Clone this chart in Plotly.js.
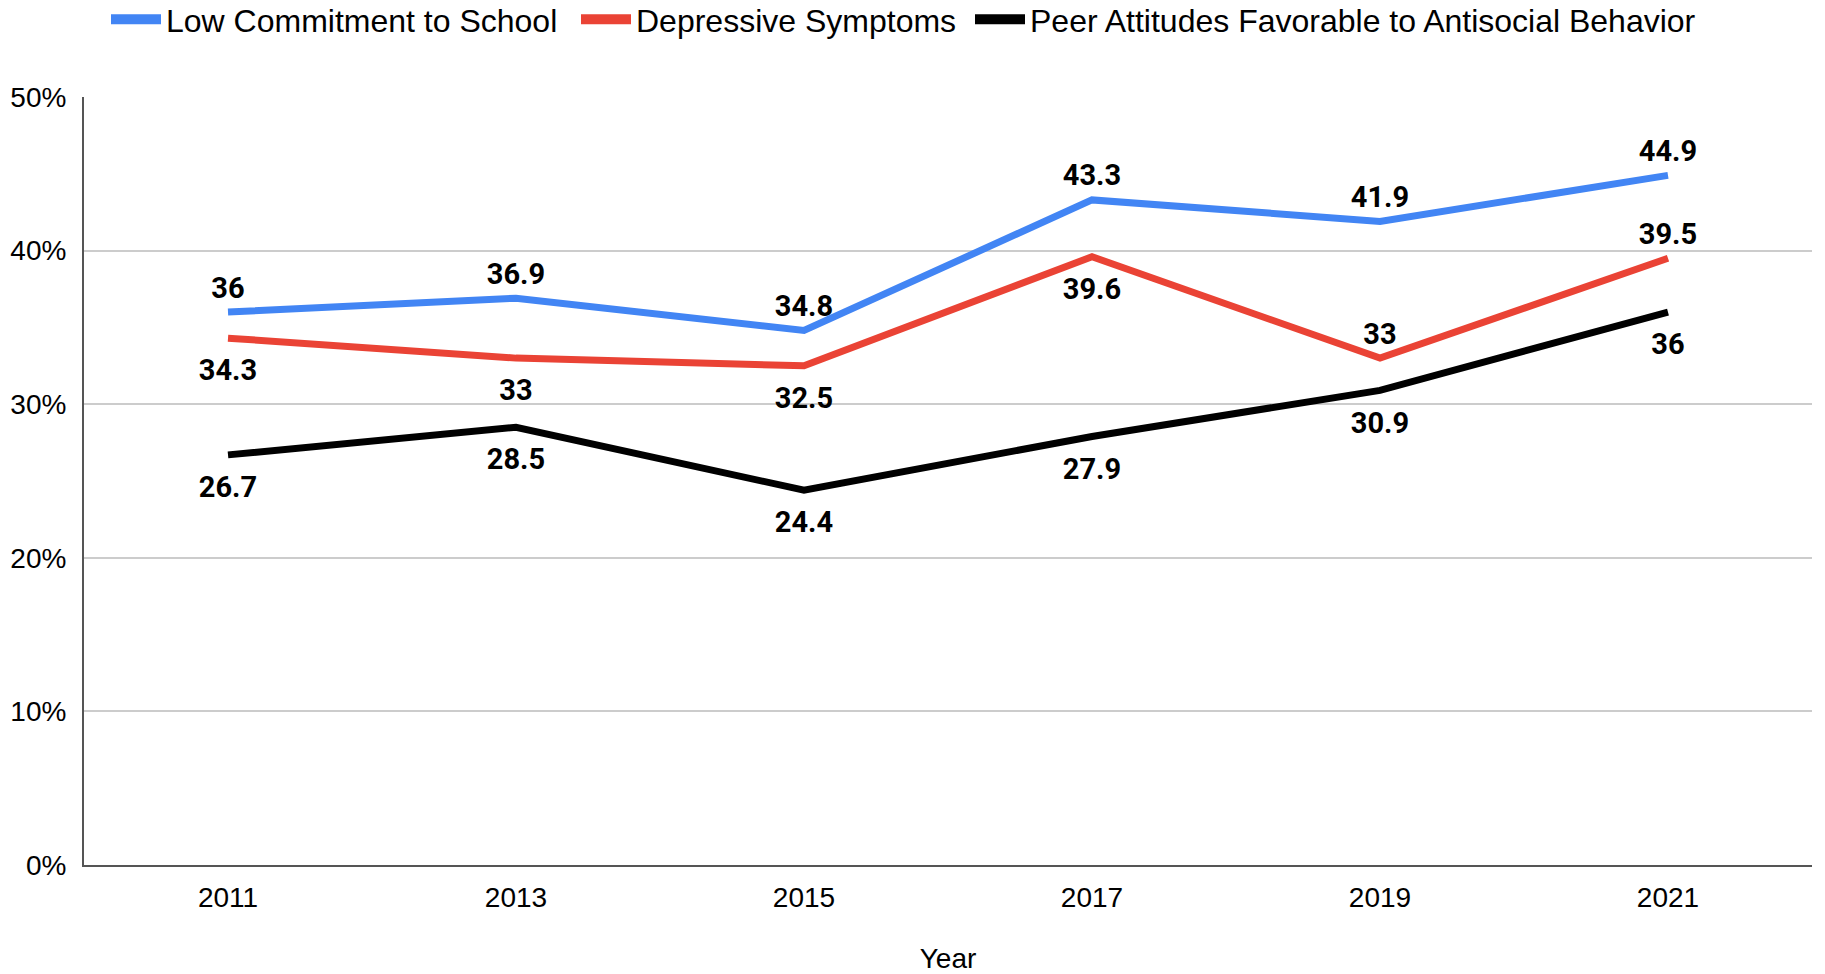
<!DOCTYPE html>
<html>
<head>
<meta charset="utf-8">
<script src="https://cdn.plot.ly/plotly-3.0.1.min.js"></script>
<style>html,body{margin:0;padding:0;background:#fff;}#chart{width:1825px;height:974px;}</style>
</head>
<body>
<div id="chart"></div>
<script>
const years = ["2011", "2013", "2015", "2017", "2019", "2021"];
const lowCommitment = [36, 36.9, 34.8, 43.3, 41.9, 44.9];
const depressive = [34.3, 33, 32.5, 39.6, 33, 39.5];
const peerAttitudes = [26.7, 28.5, 24.4, 27.9, 30.9, 36];
const seriesNames = ["Low Commitment to School", "Depressive Symptoms", "Peer Attitudes Favorable to Antisocial Behavior"];
const yTicks = [0, 10, 20, 30, 40, 50];

const colors = ["#4285F4", "#EA4335", "#000000"];
const positions = [
  ["top center","top center","top center","top center","top center","top center"],
  ["bottom center","bottom center","bottom center","bottom center","top center","top center"],
  ["bottom center","bottom center","bottom center","bottom center","bottom center","bottom center"]
];
const series = [lowCommitment, depressive, peerAttitudes];
const legendIds = ["legend", "legend2", "legend3"];

const traces = [];
series.forEach((vals, i) => {
  traces.push({
    type: "scatter",
    mode: "lines+markers+text",
    x: years,
    y: vals,
    name: seriesNames[i],
    showlegend: false,
    line: {color: colors[i], width: 7},
    marker: {size: positions[i].map(p => p.startsWith("top") ? 10 : 31), color: "rgba(0,0,0,0)", line: {width: 0}},
    texttemplate: "%{y}",
    textposition: positions[i],
    textfont: {family: "Roboto, Arial, sans-serif", size: 29, color: "#000", weight: 700},
    hoverinfo: "x+y+name"
  });
});
series.forEach((vals, i) => {
  traces.push({
    type: "scatter",
    mode: "lines",
    x: [years[0]],
    y: [null],
    name: seriesNames[i],
    legend: legendIds[i],
    showlegend: true,
    line: {color: colors[i], width: 17},
    hoverinfo: "skip"
  });
});

const legendFont = {family: "Liberation Sans, Arial, sans-serif", size: 32, color: "#000"};
function mkLegend(px) {
  return {
    orientation: "h",
    xref: "container", yref: "container",
    x: px / 1825, xanchor: "left",
    y: 1 - 19.5 / 974, yanchor: "middle",
    font: legendFont,
    itemwidth: 50,
    bgcolor: "rgba(0,0,0,0)",
    borderwidth: 0
  };
}

const layout = {
  width: 1825,
  height: 974,
  margin: {l: 84, r: 13, t: 97, b: 109},
  paper_bgcolor: "#fff",
  plot_bgcolor: "#fff",
  font: {family: "Liberation Sans, Arial, sans-serif", size: 28, color: "#000"},
  showlegend: true,
  legend: mkLegend(106),
  legend2: mkLegend(576),
  legend3: mkLegend(970),
  xaxis: {
    type: "category",
    range: [-0.5, 5.5],
    showgrid: false,
    showline: true,
    linecolor: "#555",
    linewidth: 2,
    ticks: "",
    ticklabelstandoff: 6,
    tickfont: {size: 28},
    zeroline: false,
    title: {text: "Year", font: {size: 28}, standoff: 52}
  },
  yaxis: {
    range: [0, 50],
    tickvals: yTicks,
    ticktext: yTicks.map(v => v + "%"),
    showgrid: true,
    gridcolor: "#cccccc",
    gridwidth: 1.5,
    showline: true,
    linecolor: "#555",
    linewidth: 2,
    ticks: "",
    ticklabelstandoff: 10,
    tickfont: {size: 28},
    zeroline: false
  }
};

Plotly.newPlot("chart", traces, layout, {displayModeBar: false, responsive: false});
</script>
</body>
</html>
